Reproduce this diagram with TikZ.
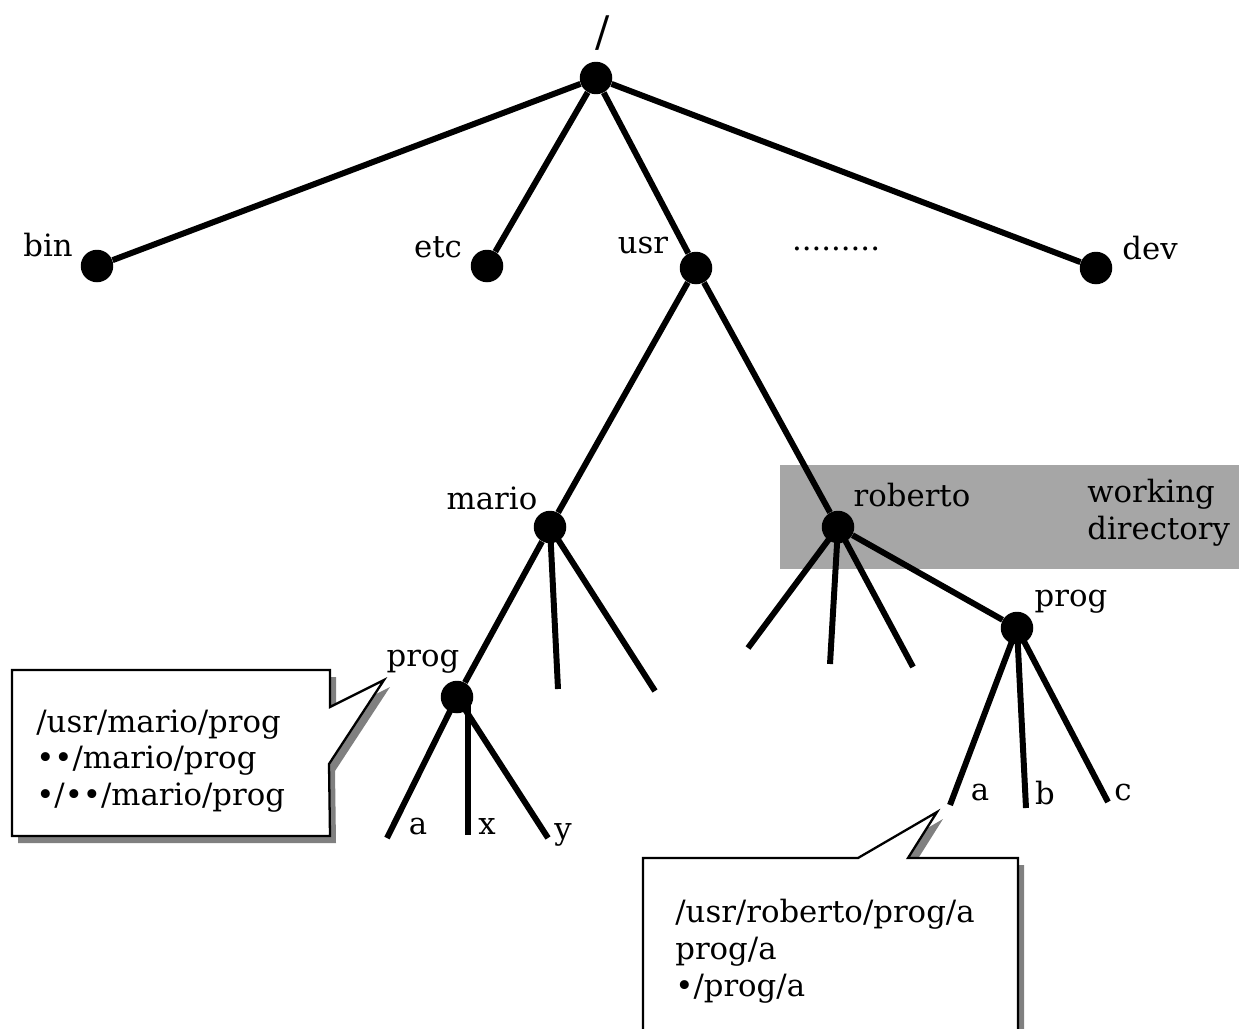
\documentclass[tikz,border=0pt]{standalone}
\usepackage{fontspec}
\setmainfont{DejaVu Serif}
\usetikzlibrary{calc}

\tikzset{
  dir/.style={circle,fill=black,inner sep=0pt,minimum size=0.65cm},
  branch/.style={line width=3.4pt},
  lbl/.style={inner sep=0pt,font=\fontsize{17.5}{21}\selectfont},
  balloon/.style={draw=black,fill=white,line width=1.3pt},
  balloonshadow/.style={fill=black!50},
}

\begin{document}
\begin{tikzpicture}[x=0.02cm,y=-0.02cm]
\clip (0,0) rectangle (1247,1028);
% working directory band
\fill[black!35] (780,465) rectangle (1239,569);
% directories
\node[dir] (root) at (596,78) {};
\node[dir] (bin) at (97,266) {};
\node[dir] (etc) at (487,266) {};
\node[dir] (usr) at (696,268) {};
\node[dir] (dev) at (1096,268) {};
\node[dir] (mario) at (550,527) {};
\node[dir] (roberto) at (838,527) {};
\node[dir] (mprog) at (457,697) {};
\node[dir] (rprog) at (1017,628) {};
% names
\node[lbl,font=\fontsize{24}{28}\selectfont] (rootname) at (603,33) {/};
\node[lbl] (binname) at (48,245) {bin};
\node[lbl] (etcname) at (438,247) {etc};
\node[lbl] (usrname) at (643,246) {usr};
\node[lbl] (more) at (836,249) {.........};
\node[lbl] (devname) at (1150,248) {dev};
\node[lbl] (marioname) at (492,498) {mario};
\node[lbl] (robertoname) at (912,495) {roberto};
\node[lbl,align=left,anchor=west] (wd) at (1087,513) {working\\directory};
\node[lbl] (mprogname) at (423,662) {prog};
\node[lbl] (rprogname) at (1071,602) {prog};
\node[lbl] (maname) at (418,827) {a};
\node[lbl] (mxname) at (487,827) {x};
\node[lbl] (myname) at (563,835) {y};
\node[lbl] (raname) at (980,793) {a};
\node[lbl] (rbname) at (1045,793) {b};
\node[lbl] (rcname) at (1123,793) {c};
% loose ends
\coordinate (m1) at (558,689);
\coordinate (m2) at (655,691);
\coordinate (r1) at (748,648);
\coordinate (r2) at (830,664);
\coordinate (r3) at (913,667);
\coordinate (ma) at (387,838);
\coordinate (mx) at (468,835);
\coordinate (my) at (548,838);
\coordinate (ra) at (950,805);
\coordinate (rb) at (1026,808);
\coordinate (rc) at (1108,802);
% branches
\draw[branch] (root) -- (bin);
\draw[branch] (root) -- (etc);
\draw[branch] (root) -- (usr);
\draw[branch] (root) -- (dev);
\draw[branch] (usr) -- (mario);
\draw[branch] (usr) -- (roberto);
\draw[branch] (mario) -- (mprog);
\draw[branch] (mario.center) -- (m1);
\draw[branch] (mario.center) -- (m2);
\draw[branch] (mprog.center) -- (ma);
\draw[branch] ($(mprog.center)+(11,0)$) -- (mx);
\draw[branch] (mprog.center) -- (my);
\draw[branch] (roberto) -- (rprog);
\draw[branch] (roberto.center) -- (r1);
\draw[branch] (roberto.center) -- (r2);
\draw[branch] (roberto.center) -- (r3);
\draw[branch] (rprog.center) -- (ra);
\draw[branch] (rprog.center) -- (rb);
\draw[branch] (rprog.center) -- (rc);
% balloon for mario/prog
\fill[balloonshadow,shift={(6,7)}] (12,670) -- (330,670) -- (330,707) -- (384,680)
  -- (329,764) -- (330,836) -- (12,836) -- cycle;
\draw[balloon] (12,670) -- (330,670) -- (330,707) -- (384,680)
  -- (329,764) -- (330,836) -- (12,836) -- cycle;
\node[lbl,align=left,anchor=west] (mpaths) at (36,761)
  {/usr/mario/prog\\••/mario/prog\\•/••/mario/prog};
% balloon for roberto/prog/a
\fill[balloonshadow,shift={(6,7)}] (643,858) -- (858,858) -- (937,812) -- (908,858)
  -- (1018,858) -- (1018,1060) -- (643,1060) -- cycle;
\draw[balloon] (643,858) -- (858,858) -- (937,812) -- (908,858)
  -- (1018,858) -- (1018,1060) -- (643,1060) -- cycle;
\node[lbl,align=left,anchor=west] (rpaths) at (675,951)
  {/usr/roberto/prog/a\\prog/a\\•/prog/a};
\end{tikzpicture}
\end{document}
